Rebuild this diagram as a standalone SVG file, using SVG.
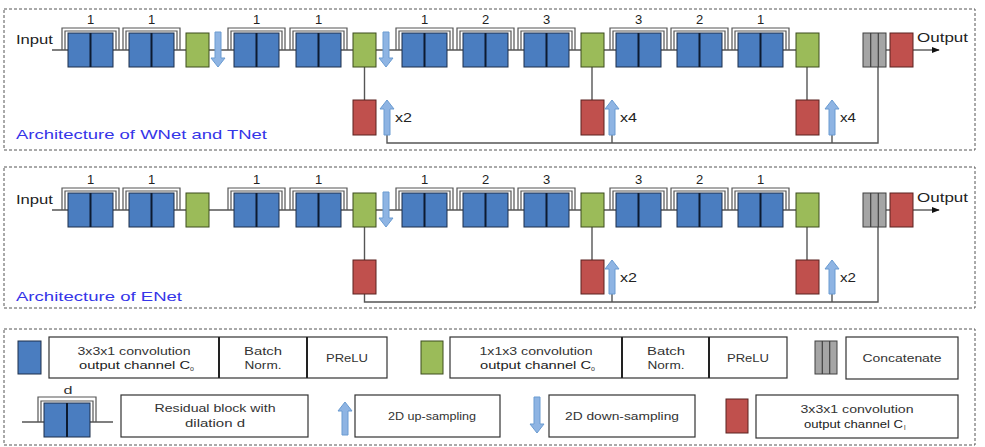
<svg xmlns="http://www.w3.org/2000/svg" width="985" height="447" viewBox="0 0 985 447">
<defs>
<style>
.frame{fill:none;stroke:#555;stroke-width:1;stroke-dasharray:3 2}
.ln{fill:none;stroke:#555;stroke-width:1.4}
.br{fill:none;stroke:#555;stroke-width:1.2}
.blue{fill:#4a7dc0;stroke:#1c2f4a;stroke-width:1}
.div{stroke:#0c1a30;stroke-width:2}
.green{fill:#9bbb59;stroke:#3d4d1f;stroke-width:1}
.red{fill:#c0504d;stroke:#5a2220;stroke-width:1}
.gray{fill:#a5a5a5;stroke:#404040;stroke-width:1}
.gdiv{stroke:#404040;stroke-width:1.2}
.arr{fill:#8eb4e3;stroke:#6a9bd1;stroke-width:1}
.box{fill:#fff;stroke:#333;stroke-width:1.2}
.tdiv{stroke:#222;stroke-width:2}
text{font-family:"Liberation Sans",Arial,sans-serif;fill:#222}
.lbl{font-size:13px;text-anchor:middle}
.io{font-size:13px}
.title{font-size:13px;fill:#3535e8}
.lg{font-size:11px;text-anchor:middle;fill:#333}
.sub{font-size:7px;fill:#333}
</style>
<marker id="ah" viewBox="0 0 10 10" refX="9" refY="5" markerWidth="8" markerHeight="8" markerUnits="userSpaceOnUse" orient="auto"><path d="M0 1L10 5L0 9Z" fill="#111"/></marker>
</defs>
<rect width="985" height="447" fill="#fff"/>

<!-- Panel frames -->
<rect class="frame" x="4" y="9" width="971" height="141"/>
<rect class="frame" x="4" y="167" width="971" height="141"/>
<rect class="frame" x="4" y="329" width="971" height="116"/>

<!-- Connectors -->
<g id="connectors">
<!-- panel 1 -->
<line class="ln" x1="52" y1="50" x2="796" y2="50"/>
<line class="ln" x1="886" y1="50" x2="890" y2="50"/>
<line class="ln" x1="913" y1="50" x2="939" y2="50" marker-end="url(#ah)"/>
<line class="ln" x1="364.5" y1="67" x2="364.5" y2="100"/>
<line class="ln" x1="592" y1="67" x2="592" y2="100"/>
<line class="ln" x1="807" y1="67" x2="807" y2="100"/>
<path class="ln" d="M387 135V143H878V67"/>
<line class="ln" x1="612" y1="135" x2="612" y2="143"/>
<line class="ln" x1="832" y1="135" x2="832" y2="143"/>
<!-- panel 2 -->
<line class="ln" x1="52" y1="210" x2="796" y2="210"/>
<line class="ln" x1="886" y1="210" x2="890" y2="210"/>
<line class="ln" x1="913" y1="210" x2="939" y2="210" marker-end="url(#ah)"/>
<line class="ln" x1="364.5" y1="227" x2="364.5" y2="260"/>
<line class="ln" x1="592" y1="227" x2="592" y2="260"/>
<line class="ln" x1="807" y1="227" x2="807" y2="260"/>
<path class="ln" d="M364.5 294V302H878V227"/>
<line class="ln" x1="612" y1="294" x2="612" y2="302"/>
<line class="ln" x1="832" y1="294" x2="832" y2="302"/>
</g>

<!-- ===== Panel 1 ===== -->
<g id="p1-labels">
<text class="io" x="16" y="44" textLength="37" lengthAdjust="spacingAndGlyphs">Input</text>
<text class="io" x="917" y="42" textLength="51" lengthAdjust="spacingAndGlyphs">Output</text>
<text class="title" x="16" y="139" textLength="251" lengthAdjust="spacingAndGlyphs">Architecture of WNet and TNet</text>
</g>
<g id="p1-res1"><path class="br" d="M62 50V28H119V50"/><path class="br" d="M65 50V31H116V50"/><rect class="blue" x="68" y="33" width="45" height="34"/><line class="div" x1="90.5" y1="33" x2="90.5" y2="67"/><text class="lbl" x="90.5" y="24">1</text></g>
<g id="p1-res2"><path class="br" d="M123 50V28H180V50"/><path class="br" d="M126 50V31H177V50"/><rect class="blue" x="129" y="33" width="45" height="34"/><line class="div" x1="151.5" y1="33" x2="151.5" y2="67"/><text class="lbl" x="151.5" y="24">1</text></g>
<g id="p1-conv1"><rect class="green" x="186" y="33" width="23" height="34"/></g>
<g id="p1-down1"><path class="arr" d="M215 32H221V58H225L218 67L211 58H215Z"/></g>
<g id="p1-res3"><path class="br" d="M228 50V28H285V50"/><path class="br" d="M231 50V31H282V50"/><rect class="blue" x="234" y="33" width="45" height="34"/><line class="div" x1="256.5" y1="33" x2="256.5" y2="67"/><text class="lbl" x="256.5" y="24">1</text></g>
<g id="p1-res4"><path class="br" d="M290 50V28H347V50"/><path class="br" d="M293 50V31H344V50"/><rect class="blue" x="296" y="33" width="45" height="34"/><line class="div" x1="318.5" y1="33" x2="318.5" y2="67"/><text class="lbl" x="318.5" y="24">1</text></g>
<g id="p1-conv2"><rect class="green" x="353" y="33" width="23" height="34"/></g>
<g id="p1-down2"><path class="arr" d="M383 32H389V58H393L386 67L379 58H383Z"/></g>
<g id="p1-res5"><path class="br" d="M396 50V28H453V50"/><path class="br" d="M399 50V31H450V50"/><rect class="blue" x="402" y="33" width="45" height="34"/><line class="div" x1="424.5" y1="33" x2="424.5" y2="67"/><text class="lbl" x="424.5" y="24">1</text></g>
<g id="p1-res6"><path class="br" d="M457 50V28H514V50"/><path class="br" d="M460 50V31H511V50"/><rect class="blue" x="463" y="33" width="45" height="34"/><line class="div" x1="485.5" y1="33" x2="485.5" y2="67"/><text class="lbl" x="485.5" y="24">2</text></g>
<g id="p1-res7"><path class="br" d="M518 50V28H575V50"/><path class="br" d="M521 50V31H572V50"/><rect class="blue" x="524" y="33" width="45" height="34"/><line class="div" x1="546.5" y1="33" x2="546.5" y2="67"/><text class="lbl" x="546.5" y="24">3</text></g>
<g id="p1-conv3"><rect class="green" x="581" y="33" width="23" height="34"/></g>
<g id="p1-res8"><path class="br" d="M610 50V28H667V50"/><path class="br" d="M613 50V31H664V50"/><rect class="blue" x="616" y="33" width="45" height="34"/><line class="div" x1="638.5" y1="33" x2="638.5" y2="67"/><text class="lbl" x="638.5" y="24">3</text></g>
<g id="p1-res9"><path class="br" d="M671 50V28H728V50"/><path class="br" d="M674 50V31H725V50"/><rect class="blue" x="677" y="33" width="45" height="34"/><line class="div" x1="699.5" y1="33" x2="699.5" y2="67"/><text class="lbl" x="699.5" y="24">2</text></g>
<g id="p1-res10"><path class="br" d="M732 50V28H789V50"/><path class="br" d="M735 50V31H786V50"/><rect class="blue" x="738" y="33" width="45" height="34"/><line class="div" x1="760.5" y1="33" x2="760.5" y2="67"/><text class="lbl" x="760.5" y="24">1</text></g>
<g id="p1-conv4"><rect class="green" x="796" y="33" width="23" height="34"/></g>
<g id="p1-concat"><rect class="gray" x="863" y="33" width="23" height="34"/><line class="gdiv" x1="870.7" y1="33" x2="870.7" y2="67"/><line class="gdiv" x1="878.3" y1="33" x2="878.3" y2="67"/></g>
<g id="p1-outconv"><rect class="red" x="890" y="33" width="23" height="34"/></g>
<g id="p1-side1"><rect class="red" x="353" y="100" width="23" height="35"/></g>
<g id="p1-up1"><path class="arr" d="M387 100L394 109H390V135H384V109H380Z"/><text class="io" x="395" y="122" textLength="17" lengthAdjust="spacingAndGlyphs">x2</text></g>
<g id="p1-side2"><rect class="red" x="581" y="100" width="23" height="35"/></g>
<g id="p1-up2"><path class="arr" d="M612 100L619 109H615V135H609V109H605Z"/><text class="io" x="620" y="122" textLength="17" lengthAdjust="spacingAndGlyphs">x4</text></g>
<g id="p1-side3"><rect class="red" x="796" y="100" width="23" height="35"/></g>
<g id="p1-up3"><path class="arr" d="M832 100L839 109H835V135H829V109H825Z"/><text class="io" x="840" y="122" textLength="16" lengthAdjust="spacingAndGlyphs">x4</text></g>

<!-- ===== Panel 2 ===== -->
<g id="p2-labels">
<text class="io" x="16" y="204" textLength="37" lengthAdjust="spacingAndGlyphs">Input</text>
<text class="io" x="917" y="202" textLength="51" lengthAdjust="spacingAndGlyphs">Output</text>
<text class="title" x="16" y="301" textLength="166" lengthAdjust="spacingAndGlyphs">Architecture of ENet</text>
</g>
<g id="p2-res1"><path class="br" d="M62 210V188H119V210"/><path class="br" d="M65 210V191H116V210"/><rect class="blue" x="68" y="193" width="45" height="34"/><line class="div" x1="90.5" y1="193" x2="90.5" y2="227"/><text class="lbl" x="90.5" y="184">1</text></g>
<g id="p2-res2"><path class="br" d="M123 210V188H180V210"/><path class="br" d="M126 210V191H177V210"/><rect class="blue" x="129" y="193" width="45" height="34"/><line class="div" x1="151.5" y1="193" x2="151.5" y2="227"/><text class="lbl" x="151.5" y="184">1</text></g>
<g id="p2-conv1"><rect class="green" x="186" y="193" width="23" height="34"/></g>
<g id="p2-res3"><path class="br" d="M228 210V188H285V210"/><path class="br" d="M231 210V191H282V210"/><rect class="blue" x="234" y="193" width="45" height="34"/><line class="div" x1="256.5" y1="193" x2="256.5" y2="227"/><text class="lbl" x="256.5" y="184">1</text></g>
<g id="p2-res4"><path class="br" d="M290 210V188H347V210"/><path class="br" d="M293 210V191H344V210"/><rect class="blue" x="296" y="193" width="45" height="34"/><line class="div" x1="318.5" y1="193" x2="318.5" y2="227"/><text class="lbl" x="318.5" y="184">1</text></g>
<g id="p2-conv2"><rect class="green" x="353" y="193" width="23" height="34"/></g>
<g id="p2-down1"><path class="arr" d="M383 192H389V218H393L386 227L379 218H383Z"/></g>
<g id="p2-res5"><path class="br" d="M396 210V188H453V210"/><path class="br" d="M399 210V191H450V210"/><rect class="blue" x="402" y="193" width="45" height="34"/><line class="div" x1="424.5" y1="193" x2="424.5" y2="227"/><text class="lbl" x="424.5" y="184">1</text></g>
<g id="p2-res6"><path class="br" d="M457 210V188H514V210"/><path class="br" d="M460 210V191H511V210"/><rect class="blue" x="463" y="193" width="45" height="34"/><line class="div" x1="485.5" y1="193" x2="485.5" y2="227"/><text class="lbl" x="485.5" y="184">2</text></g>
<g id="p2-res7"><path class="br" d="M518 210V188H575V210"/><path class="br" d="M521 210V191H572V210"/><rect class="blue" x="524" y="193" width="45" height="34"/><line class="div" x1="546.5" y1="193" x2="546.5" y2="227"/><text class="lbl" x="546.5" y="184">3</text></g>
<g id="p2-conv3"><rect class="green" x="581" y="193" width="23" height="34"/></g>
<g id="p2-res8"><path class="br" d="M610 210V188H667V210"/><path class="br" d="M613 210V191H664V210"/><rect class="blue" x="616" y="193" width="45" height="34"/><line class="div" x1="638.5" y1="193" x2="638.5" y2="227"/><text class="lbl" x="638.5" y="184">3</text></g>
<g id="p2-res9"><path class="br" d="M671 210V188H728V210"/><path class="br" d="M674 210V191H725V210"/><rect class="blue" x="677" y="193" width="45" height="34"/><line class="div" x1="699.5" y1="193" x2="699.5" y2="227"/><text class="lbl" x="699.5" y="184">2</text></g>
<g id="p2-res10"><path class="br" d="M732 210V188H789V210"/><path class="br" d="M735 210V191H786V210"/><rect class="blue" x="738" y="193" width="45" height="34"/><line class="div" x1="760.5" y1="193" x2="760.5" y2="227"/><text class="lbl" x="760.5" y="184">1</text></g>
<g id="p2-conv4"><rect class="green" x="796" y="193" width="23" height="34"/></g>
<g id="p2-concat"><rect class="gray" x="863" y="193" width="23" height="34"/><line class="gdiv" x1="870.7" y1="193" x2="870.7" y2="227"/><line class="gdiv" x1="878.3" y1="193" x2="878.3" y2="227"/></g>
<g id="p2-outconv"><rect class="red" x="890" y="193" width="23" height="34"/></g>
<g id="p2-side1"><rect class="red" x="353" y="260" width="23" height="34"/></g>
<g id="p2-side2"><rect class="red" x="581" y="260" width="23" height="34"/></g>
<g id="p2-up1"><path class="arr" d="M612 260L619 269H615V294H609V269H605Z"/><text class="io" x="620" y="282" textLength="17" lengthAdjust="spacingAndGlyphs">x2</text></g>
<g id="p2-side3"><rect class="red" x="796" y="260" width="23" height="34"/></g>
<g id="p2-up2"><path class="arr" d="M832 260L839 269H835V294H829V269H825Z"/><text class="io" x="840" y="282" textLength="16" lengthAdjust="spacingAndGlyphs">x2</text></g>

<!-- ===== Legend ===== -->
<g id="lg-conv-blue">
<rect class="blue" x="18" y="341" width="23" height="33"/>
<rect class="box" x="49" y="337" width="338" height="41"/>
<line class="tdiv" x1="219" y1="337" x2="219" y2="378"/>
<line class="tdiv" x1="307" y1="337" x2="307" y2="378"/>
<text class="lg" x="134" y="355" textLength="113" lengthAdjust="spacingAndGlyphs">3x3x1 convolution</text>
<text x="79" y="369" font-size="11" fill="#333" textLength="111" lengthAdjust="spacingAndGlyphs">output channel C</text><text class="sub" x="190" y="371">o</text>
<text class="lg" x="263" y="355" textLength="38" lengthAdjust="spacingAndGlyphs">Batch</text>
<text class="lg" x="263" y="369" textLength="37" lengthAdjust="spacingAndGlyphs">Norm.</text>
<text class="lg" x="347" y="362" textLength="42" lengthAdjust="spacingAndGlyphs">PReLU</text>
</g>
<g id="lg-conv-green">
<rect class="green" x="421" y="341" width="22" height="33"/>
<rect class="box" x="450" y="337" width="337" height="41"/>
<line class="tdiv" x1="622" y1="337" x2="622" y2="378"/>
<line class="tdiv" x1="709" y1="337" x2="709" y2="378"/>
<text class="lg" x="536" y="355" textLength="113" lengthAdjust="spacingAndGlyphs">1x1x3 convolution</text>
<text x="480" y="369" font-size="11" fill="#333" textLength="111" lengthAdjust="spacingAndGlyphs">output channel C</text><text class="sub" x="591" y="371">o</text>
<text class="lg" x="666" y="355" textLength="38" lengthAdjust="spacingAndGlyphs">Batch</text>
<text class="lg" x="666" y="369" textLength="37" lengthAdjust="spacingAndGlyphs">Norm.</text>
<text class="lg" x="748" y="362" textLength="42" lengthAdjust="spacingAndGlyphs">PReLU</text>
</g>
<g id="lg-concat">
<rect class="gray" x="815" y="341" width="22" height="33"/>
<line class="gdiv" x1="822.3" y1="341" x2="822.3" y2="374"/>
<line class="gdiv" x1="829.7" y1="341" x2="829.7" y2="374"/>
<rect class="box" x="846" y="337" width="112" height="42"/>
<text class="lg" x="902" y="362" textLength="79" lengthAdjust="spacingAndGlyphs">Concatenate</text>
</g>
<g id="lg-residual">
<line class="ln" x1="22" y1="422" x2="113" y2="422"/>
<path class="br" d="M38 422V397H96V422"/>
<path class="br" d="M41 422V401H93V422"/>
<rect class="blue" x="44" y="403" width="46" height="34"/>
<line class="div" x1="67" y1="403" x2="67" y2="437"/>
<text class="lg" x="68" y="394" textLength="9" lengthAdjust="spacingAndGlyphs">d</text>
<rect class="box" x="121" y="395" width="187" height="42"/>
<text class="lg" x="215" y="412" textLength="121" lengthAdjust="spacingAndGlyphs">Residual block with</text>
<text class="lg" x="215" y="427" textLength="60" lengthAdjust="spacingAndGlyphs">dilation d</text>
</g>
<g id="lg-up">
<path class="arr" d="M345 402L352 411H348V435H342V411H338Z"/>
<rect class="box" x="355" y="395" width="145" height="42"/>
<text class="lg" x="432" y="420" textLength="88" lengthAdjust="spacingAndGlyphs">2D up-sampling</text>
</g>
<g id="lg-down">
<path class="arr" d="M534 397H540V424H544L537 433L530 424H534Z"/>
<rect class="box" x="549" y="395" width="146" height="42"/>
<text class="lg" x="622" y="420" textLength="114" lengthAdjust="spacingAndGlyphs">2D down-sampling</text>
</g>
<g id="lg-conv-red">
<rect class="red" x="726" y="399" width="22" height="34"/>
<rect class="box" x="756" y="395" width="202" height="43"/>
<text class="lg" x="857" y="413" textLength="113" lengthAdjust="spacingAndGlyphs">3x3x1 convolution</text>
<text x="804" y="428" font-size="11" fill="#333" textLength="99" lengthAdjust="spacingAndGlyphs">output channel C</text><text class="sub" x="904" y="430">l</text>
</g>
</svg>
